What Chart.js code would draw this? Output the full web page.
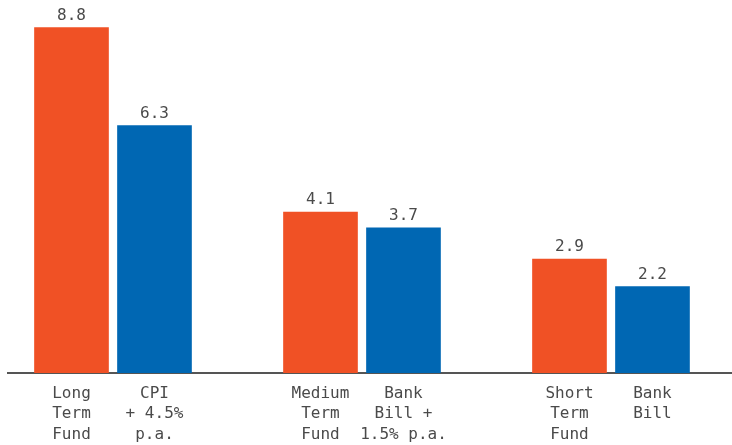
<!DOCTYPE html>
<html>
<head>
<meta charset="utf-8">
<script src="https://cdn.jsdelivr.net/npm/chart.js@4"></script>
<style>
  html, body { margin: 0; padding: 0; background: #ffffff; }
  #wrap { width: 732px; height: 445px; }
</style>
</head>
<body>
<div id="wrap"><canvas id="graf"></canvas></div>
<script>
// slot positions along x (gaps at 2 and 5 separate the groups)
const mesta = [0, 1, 3, 4, 6, 7];
const oznake = [
    ['Long', 'Term', 'Fund'],
    ['CPI', '+ 4.5%', 'p.a.'],
    ['Medium', 'Term', 'Fund'],
    ['Bank', 'Bill +', '1.5% p.a.'],
    ['Short', 'Term', 'Fund'],
    ['Bank', 'Bill']
];
const vrednosti = [8.8, 6.3, 4.1, 3.7, 2.9, 2.2];

let oranzna = '#f05125';
let modra = '#0067b3';
let barva_pisave = '#4a4a4a';
let font = 'DejaVu Sans Mono';
let vel_pisave = 16;

const barve = vrednosti.map((v, i) => i % 2 === 0 ? oranzna : modra);

const napisi_vrednosti = {
    id: 'napisi_vrednosti',
    afterDatasetsDraw(chart) {
        const ctx = chart.ctx;
        const meta = chart.getDatasetMeta(0);
        ctx.save();
        ctx.font = vel_pisave + 'px "' + font + '"';
        ctx.fillStyle = barva_pisave;
        ctx.textAlign = 'center';
        ctx.textBaseline = 'bottom';
        meta.data.forEach((bar, i) => {
            ctx.fillText(vrednosti[i].toFixed(1), bar.x, bar.y - 4);
        });
        ctx.restore();
    }
};

Chart.defaults.font.family = font;
Chart.defaults.font.size = vel_pisave;
Chart.defaults.color = barva_pisave;

const graf = new Chart(document.getElementById('graf').getContext('2d'), {
    type: 'bar',
    data: {
        datasets: [{
            data: mesta.map((m, i) => ({ x: m, y: vrednosti[i] })),
            backgroundColor: barve,
            borderWidth: 0,
            barThickness: 74
        }]
    },
    options: {
        responsive: true,
        maintainAspectRatio: false,
        animation: false,
        layout: { padding: { left: 8, right: 0, top: 0, bottom: -10 } },
        plugins: {
            legend: { display: false },
            tooltip: { enabled: false }
        },
        scales: {
            x: {
                type: 'linear',
                offset: false,
                bounds: 'data',
                min: -0.765,
                max: 7.958,
                grid: { display: false, drawTicks: false },
                border: { display: true, color: '#555555', width: 2 },
                afterBuildTicks: (os) => { os.ticks = mesta.map(m => ({ value: m })); },
                ticks: {
                    autoSkip: false,
                    maxRotation: 0,
                    padding: 10,
                    font: { size: vel_pisave, lineHeight: 1.29 },
                    callback: (v) => oznake[mesta.indexOf(v)]
                }
            },
            y: {
                display: false,
                min: 0,
                max: 9.5
            }
        }
    },
    plugins: [napisi_vrednosti]
});
</script>
</body>
</html>
